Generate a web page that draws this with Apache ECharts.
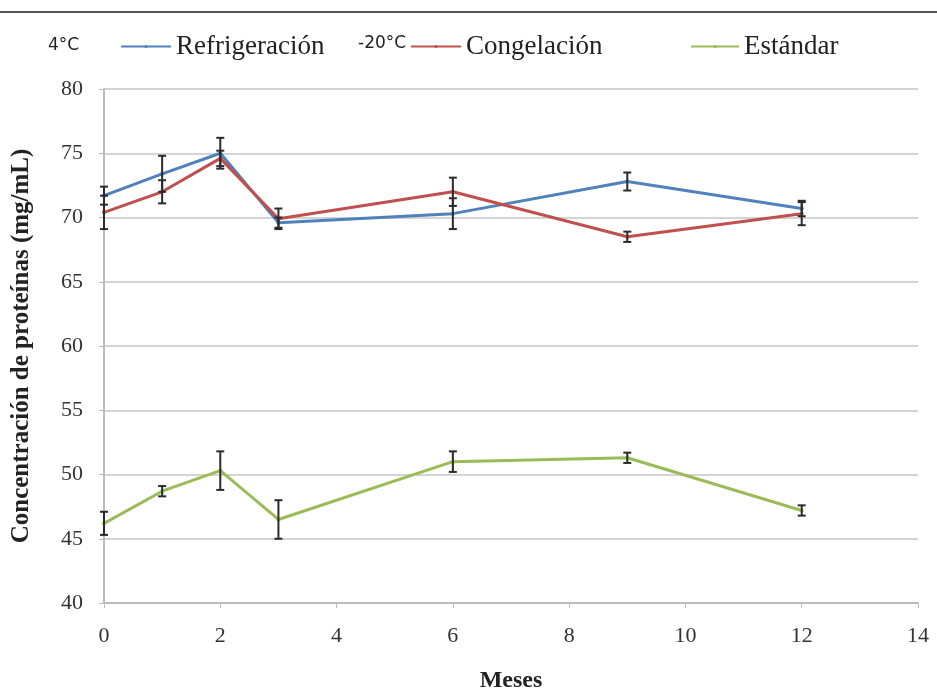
<!DOCTYPE html>
<html>
<head>
<meta charset="utf-8">
<script src="https://cdn.jsdelivr.net/npm/echarts@6/dist/echarts.min.js"></script>
<style>
    html, body { margin: 0; padding: 0; background: #fff; }
    #chart { width: 937px; height: 689px; }
</style>
</head>
<body>
<div id="chart"></div>
<script>
'use strict';

var months = [0, 1, 2, 3, 6, 9, 12];
var refri = [71.7, 73.4, 75.0, 69.6, 70.3, 72.8, 70.7];
var refriErr = [0.7, 1.4, 1.2, 0.4, 1.2, 0.7, 0.6];
var cong = [70.4, 72.0, 74.6, 69.9, 72.0, 68.5, 70.3];
var congErr = [1.3, 0.9, 0.6, 0.8, 1.1, 0.4, 0.9];
var std = [46.2, 48.7, 50.3, 46.5, 51.0, 51.3, 47.2];
var stdErr = [0.9, 0.4, 1.5, 1.5, 0.8, 0.4, 0.4];

var yTicks = [40, 45, 50, 55, 60, 65, 70, 75, 80];
var xTicks = [0, 2, 4, 6, 8, 10, 12, 14];

var colors = ['#4f81bd', '#c0504d', '#9bbb59'];
var serif = '"Liberation Serif", "DejaVu Serif", serif';

function pairs(vals) {
    var out = [];
    for (var i = 0; i < months.length; i++) {
        out.push([months[i], vals[i]]);
    }
    return out;
}

function errData(vals, errs) {
    var out = [];
    for (var i = 0; i < months.length; i++) {
        out.push([months[i], vals[i] - errs[i], vals[i] + errs[i]]);
    }
    return out;
}

// error bars drawn through the axis scales
function renderErr(params, api) {
    var lo = api.coord([api.value(0), api.value(1)]);
    var hi = api.coord([api.value(0), api.value(2)]);
    var w = 4;
    var st = { stroke: '#2b2b2b', lineWidth: 2 };
    return {
        type: 'group',
        children: [
            { type: 'line', shape: { x1: lo[0], y1: lo[1], x2: hi[0], y2: hi[1] }, style: st },
            { type: 'line', shape: { x1: lo[0] - w, y1: lo[1], x2: lo[0] + w, y2: lo[1] }, style: st },
            { type: 'line', shape: { x1: hi[0] - w, y1: hi[1], x2: hi[0] + w, y2: hi[1] }, style: st }
        ]
    };
}

function lineSeries(name, vals, color) {
    return {
        name: name,
        type: 'line',
        data: pairs(vals),
        symbol: 'circle',
        symbolSize: 4,
        showSymbol: true,
        itemStyle: { color: color },
        lineStyle: { color: color, width: 3 },
        z: 3
    };
}

function errSeries(vals, errs) {
    return {
        type: 'custom',
        renderItem: renderErr,
        data: errData(vals, errs),
        encode: { x: 0, y: [1, 2] },
        z: 4,
        silent: true
    };
}

var legendText = { fontFamily: serif, fontSize: 27, color: '#222' };
var smallFont = '17px "DejaVu Sans", sans-serif';

var chart = echarts.init(document.getElementById('chart'), null, { renderer: 'canvas' });
var option = {
    animation: false,
    backgroundColor: '#fff',
    color: colors,
    grid: { left: 104, right: 19, top: 89, bottom: 86, containLabel: false, outerBoundsMode: 'none' },
    legend: [
        { data: ['Refrigeración'], left: 120, top: 33, padding: 0, itemWidth: 50, itemHeight: 4, textStyle: legendText },
        { data: ['Congelación'], left: 410, top: 33, padding: 0, itemWidth: 50, itemHeight: 4, textStyle: legendText },
        { data: ['Estándar'], left: 690, top: 33, padding: 0, itemWidth: 48, itemHeight: 4, textStyle: legendText }
    ],
    graphic: [
        { type: 'line', shape: { x1: 0, y1: 12, x2: 937, y2: 12 }, style: { stroke: '#555', lineWidth: 2 } },
        { type: 'text', left: 48, top: 37, style: { text: '4°C', font: smallFont, fill: '#222' } },
        { type: 'text', left: 358, top: 35, style: { text: '-20°C', font: smallFont, fill: '#222' } }
    ],
    xAxis: {
        type: 'value',
        min: 0,
        max: 14,
        interval: 2,
        name: 'Meses',
        nameLocation: 'middle',
        nameGap: 66,
        nameTextStyle: { fontFamily: serif, fontSize: 24, fontWeight: 'bold', color: '#222' },
        axisLine: { show: true, lineStyle: { color: '#bbb', width: 2 } },
        axisTick: { show: true, length: 5, lineStyle: { color: '#bbb' } },
        axisLabel: { fontFamily: serif, fontSize: 22, color: '#333', margin: 22,
            formatter: function (v) { return xTicks.indexOf(v) >= 0 ? String(v) : ''; } },
        splitLine: { show: false }
    },
    yAxis: {
        type: 'value',
        min: 40,
        max: 80,
        interval: 5,
        name: 'Concentración de proteínas (mg/mL)',
        nameLocation: 'middle',
        nameGap: 70,
        nameRotate: 90,
        nameTextStyle: { fontFamily: serif, fontSize: 25, fontWeight: 'bold', color: '#222' },
        axisLine: { show: true, lineStyle: { color: '#bbb', width: 2 } },
        axisTick: { show: true, length: 5, lineStyle: { color: '#bbb' } },
        axisLabel: { fontFamily: serif, fontSize: 22, color: '#333', margin: 21,
            formatter: function (v) { return yTicks.indexOf(v) >= 0 ? String(v) : ''; } },
        splitLine: { show: true, lineStyle: { color: '#d4d4d4', width: 2 } }
    },
    series: [
        lineSeries('Refrigeración', refri, colors[0]),
        lineSeries('Congelación', cong, colors[1]),
        lineSeries('Estándar', std, colors[2]),
        errSeries(refri, refriErr),
        errSeries(cong, congErr),
        errSeries(std, stdErr)
    ]
};
chart.setOption(option);
</script>
</body>
</html>
